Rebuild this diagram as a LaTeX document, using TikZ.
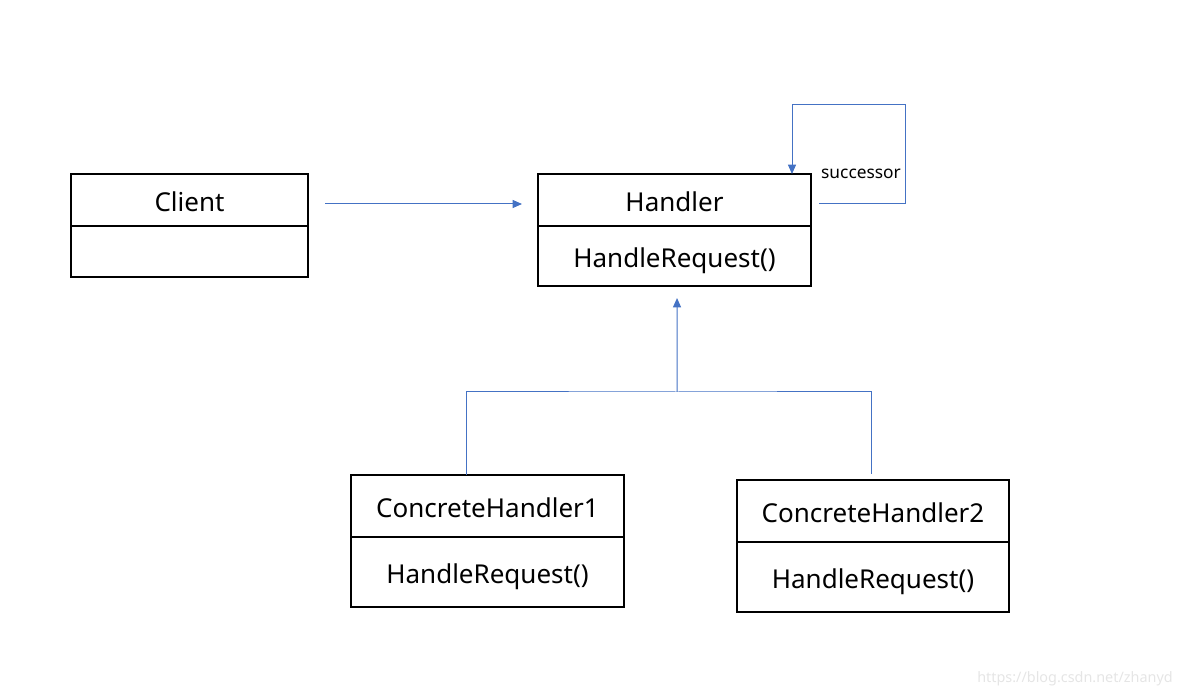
\documentclass[tikz,border=0pt]{standalone}
\usepackage{fontspec}
\setmainfont{Noto Sans}
\usetikzlibrary{arrows.meta}
\definecolor{linkblue}{HTML}{4472C4}
\begin{document}
\begin{tikzpicture}
  [x=0.75pt,y=-0.75pt,
   box/.style={rectangle,draw=black,line width=1.5pt,outer sep=0pt,inner sep=0pt,
     text height=17pt,text depth=0pt,font=\fontsize{19.5}{22}\selectfont},
   link/.style={draw=linkblue,line width=0.75pt,-{Triangle[length=7pt,width=6pt]}},
   line/.style={draw=linkblue,line width=0.75pt}]
  \useasboundingbox (0,0) rectangle (1182,698);

  \node[box,minimum width=177.75pt,minimum height=39pt] (clienth) at (189.5,200) {Client};
  \node[box,minimum width=177.75pt,minimum height=38.25pt] (clientb) at (189.5,251.5) {};
  \node[box,minimum width=204.75pt,minimum height=39pt] (handlerh) at (674.5,200) {Handler};
  \node[box,minimum width=204.75pt,minimum height=45pt] (handlerb) at (674.5,256) {HandleRequest()};
  \node[box,minimum width=204.75pt,minimum height=46.5pt] (ch1h) at (487.5,506) {ConcreteHandler1};
  \node[box,minimum width=204.75pt,minimum height=52.5pt] (ch1b) at (487.5,572) {HandleRequest()};
  \node[box,minimum width=204pt,minimum height=46.5pt] (ch2h) at (873,511) {ConcreteHandler2};
  \node[box,minimum width=204pt,minimum height=52.5pt] (ch2b) at (873,577) {HandleRequest()};

  \coordinate (loop) at (905,105);
  \coordinate (join) at (677,392);

  \draw[link] ([xshift=12.75pt,yshift=-3pt]clienth.east) -- ([xshift=-12pt,yshift=-3pt]handlerh.west);
  \draw[link] ([xshift=6pt,yshift=-3pt]handlerh.east) -| (loop) -| ([xshift=-14.25pt]handlerh.north east);
  \node[font=\fontsize{13}{15}\selectfont] (succ) at (861,174) {successor};

  \draw[link] (join) -- ([xshift=1.9pt,yshift=-9pt]handlerb.south);
  \draw[line] ([xshift=-15.4pt]ch1h.north) |- (join) -| ([xshift=-1.5pt,yshift=4.5pt]ch2h.north);

  \node[text=black!10,font=\fontsize{10.8}{13}\selectfont] (mark) at (1075,679) {https://blog.csdn.net/zhanyd};
\end{tikzpicture}
\end{document}
